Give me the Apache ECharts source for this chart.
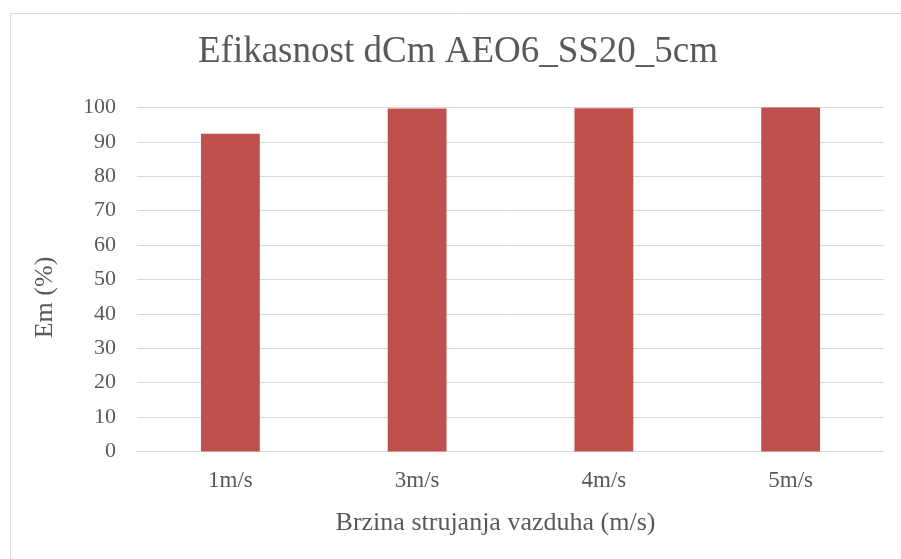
<!DOCTYPE html>
<html>
<head>
<meta charset="utf-8">
<script src="https://cdn.jsdelivr.net/npm/echarts@6/dist/echarts.min.js"></script>
<style>
html,body{margin:0;padding:0;background:#fff;}
#chart{width:901px;height:559px;}
</style>
</head>
<body>
<div id="chart"></div>
<script>
const titleText = 'Efikasnost dCm AEO6_SS20_5cm';
const categories = ['1m/s', '3m/s', '4m/s', '5m/s'];
const values = [92.4, 99.7, 99.8, 100];
const yTicks = {min: 0, max: 100, interval: 10};
const xAxisName = 'Brzina strujanja vazduha (m/s)';
const yAxisName = 'Em (%)';

const chart = echarts.init(document.getElementById('chart'), null, {renderer: 'canvas'});
const font = '"Liberation Serif", "Times New Roman", serif';
chart.setOption({
  animation: false,
  backgroundColor: '#fff',
  graphic: [{
    type: 'rect', left: 8, top: 11, silent: true,
    shape: {width: 900, height: 560},
    style: {fill: 'none', stroke: '#d9d9d9', lineWidth: 1}
  }],
  title: {
    text: titleText, left: 198, top: 34, padding: 0,
    textStyle: {fontFamily: font, fontSize: 37, fontWeight: 'normal', color: '#595959'}
  },
  grid: {left: 137, right: 17, top: 107.5, bottom: 107.5},
  xAxis: {
    type: 'category', data: categories,
    name: xAxisName, nameLocation: 'middle', nameGap: 59,
    nameTextStyle: {fontFamily: font, fontSize: 26, color: '#595959', padding: [0, 30, 0, 0]},
    axisLine: {show: true, lineStyle: {color: '#d9d9d9', width: 1}},
    axisTick: {show: false},
    axisLabel: {fontFamily: font, fontSize: 23, color: '#595959', margin: 18}
  },
  yAxis: {
    type: 'value', min: yTicks.min, max: yTicks.max, interval: yTicks.interval,
    name: yAxisName, nameLocation: 'middle', nameGap: 79, nameRotate: 90,
    nameTextStyle: {fontFamily: font, fontSize: 26, color: '#595959', padding: [0, 36, 0, 0]},
    axisLine: {show: false}, axisTick: {show: false},
    axisLabel: {fontFamily: font, fontSize: 22, color: '#595959', margin: 21},
    splitLine: {lineStyle: {color: '#d9d9d9', width: 1}}
  },
  series: [{
    type: 'bar', data: values, barWidth: '31.5%',
    itemStyle: {color: '#c0504d'}
  }]
});
</script>
</body>
</html>
